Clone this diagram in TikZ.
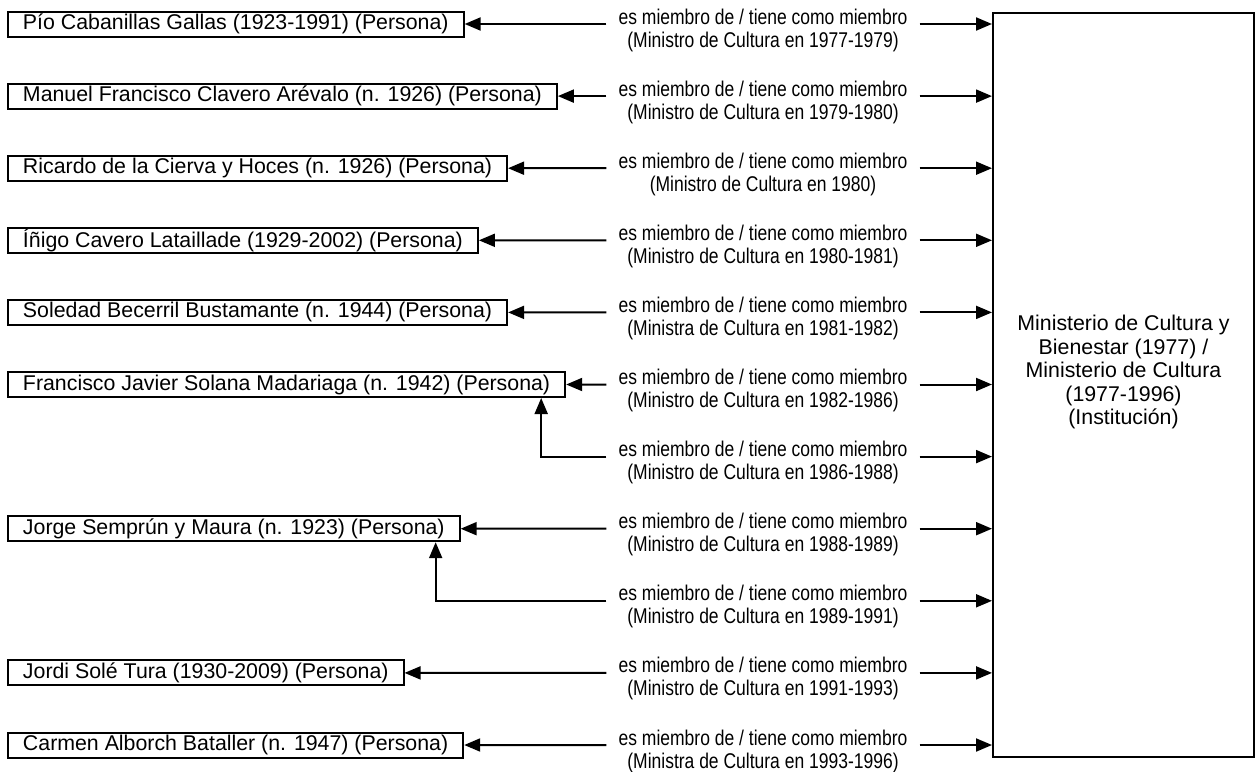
\documentclass[tikz,border=0pt]{standalone}
\usepackage{fontspec}
\setmainfont{Liberation Sans}
\newfontfamily\narrowfont[FakeStretch=0.82]{Liberation Sans}
\usetikzlibrary{arrows.meta,calc}
\begin{document}
\begin{tikzpicture}[x=1pt,y=-1pt,
  person/.style={draw, line width=2pt, anchor=west, minimum height=25pt,
    inner xsep=15pt, inner ysep=0pt, font=\fontsize{21.33}{24}\selectfont},
  rel/.style={inner xsep=12pt, inner ysep=0pt, align=center,
    font=\narrowfont\fontsize{21.33}{23}\selectfont},
  arr/.style={line width=2pt, -{Triangle[length=16pt,width=13pt]}},
  instbox/.style={draw, line width=2pt, anchor=north west,
    minimum width=261pt, minimum height=744pt},
  insttext/.style={align=center, font=\fontsize{21.33}{23.5}\selectfont}]
\useasboundingbox (0,0) rectangle (1255,771);

% institution
\node[instbox] (inst) at (992,12) {};
\node[insttext] (instlabel) at ($(inst.center)+(0,-13)$)
  {Ministerio de Cultura y\\Bienestar (1977) /\\Ministerio de Cultura\\(1977-1996)\\(Institución)};

% persons
\node[person] (P0)  at (7,24)    {Pío Cabanillas Gallas (1923-1991) (Persona)};
\node[person] (P1)  at (7,96.1)  {Manuel Francisco Clavero Arévalo (n. 1926) (Persona)};
\node[person] (P2)  at (7,168.2) {Ricardo de la Cierva y Hoces (n. 1926) (Persona)};
\node[person] (P3)  at (7,240.3) {Íñigo Cavero Lataillade (1929-2002) (Persona)};
\node[person] (P4)  at (7,312.4) {Soledad Becerril Bustamante (n. 1944) (Persona)};
\node[person] (P5)  at (7,384.5) {Francisco Javier Solana Madariaga (n. 1942) (Persona)};
\node[person] (P7)  at (7,528.7) {Jorge Semprún y Maura (n. 1923) (Persona)};
\node[person] (P9)  at (7,672.9) {Jordi Solé Tura (1930-2009) (Persona)};
\node[person] (P10) at (7,745)   {Carmen Alborch Bataller (n. 1947) (Persona)};

% relation labels
\foreach \k/\t in {0/Ministro de Cultura en 1977-1979,
                   1/Ministro de Cultura en 1979-1980,
                   2/Ministro de Cultura en 1980,
                   3/Ministro de Cultura en 1980-1981,
                   4/Ministra de Cultura en 1981-1982,
                   5/Ministro de Cultura en 1982-1986,
                   6/Ministro de Cultura en 1986-1988,
                   7/Ministro de Cultura en 1988-1989,
                   8/Ministro de Cultura en 1989-1991,
                   9/Ministro de Cultura en 1991-1993,
                   10/Ministra de Cultura en 1993-1996} {
  \coordinate (r\k) at (0,{24+72.1*\k});
  \node[rel] (L\k) at (763,{30+72.1*\k}) {es miembro de / tiene como miembro\\(\t)};
}

% arrows to institution
\foreach \k in {0,...,10}
  \draw[arr] (L\k.east |- r\k) -- (inst.west |- r\k);

% arrows to persons
\foreach \k in {0,1,2,3,4,5,7,9,10}
  \draw[arr] (L\k.west |- r\k) -- (P\k.east);
\coordinate (c6) at ($(P5.south east)+(-25,0)$);
\coordinate (c8) at ($(P7.south east)+(-25,0)$);
\draw[arr] (L6.west |- r6) -| (c6);
\draw[arr] (L8.west |- r8) -| (c8);
\end{tikzpicture}
\end{document}
